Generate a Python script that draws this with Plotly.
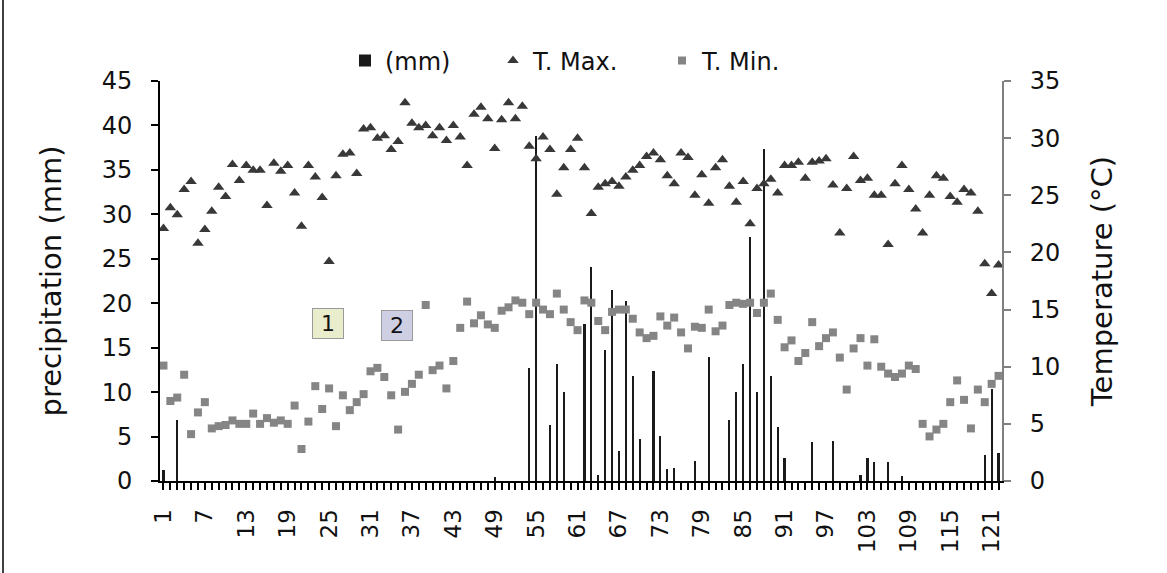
import plotly.graph_objects as go

days = list(range(1, 123))

precip_mm = [
    1.2, 0, 6.9, 0, 0, 0, 0, 0, 0, 0,
    0, 0, 0, 0, 0, 0, 0, 0, 0, 0,
    0, 0, 0, 0, 0, 0, 0, 0, 0, 0,
    0, 0, 0, 0, 0, 0, 0, 0, 0, 0,
    0, 0, 0, 0, 0, 0, 0, 0, 0.5, 0,
    0, 0, 0, 12.7, 38.8, 0, 6.3, 13.2, 10.0, 0,
    0, 17.7, 24.1, 0.7, 14.7, 21.5, 3.4, 20.3, 11.8, 4.7,
    0, 12.4, 5.1, 1.3, 1.5, 0, 0, 2.3, 0, 13.9,
    0, 0, 6.9, 10.0, 13.2, 27.5, 10.0, 37.4, 11.8, 6.1,
    2.6, 0, 0, 0, 4.4, 0, 0, 4.5, 0, 0,
    0, 0.7, 2.6, 2.1, 0, 2.1, 0, 0.6, 0, 0,
    0, 0, 0, 0, 0, 0, 0, 0, 0, 2.9,
    10.4, 3.1,
]

t_max = [
    22.1, 23.9, 23.3, 25.5, 26.2, 20.8, 22.0, 23.6, 25.7, 24.9,
    27.7, 26.3, 27.6, 27.2, 27.2, 24.1, 27.8, 27.1, 27.6, 25.2,
    22.3, 27.6, 26.6, 24.8, 19.2, 26.7, 28.6, 28.7, 26.9, 30.8,
    30.9, 30.0, 30.2, 29.0, 29.7, 33.1, 31.3, 30.9, 31.1, 30.2,
    30.9, 29.8, 31.1, 30.1, 27.6, 32.1, 32.7, 31.7, 29.1, 31.6,
    33.1, 31.7, 32.8, 29.3, 28.2, 30.1, 29.0, 25.1, 27.4, 29.0,
    30.0, 27.4, 23.4, 25.7, 26.0, 26.2, 25.8, 26.6, 27.2, 27.6,
    28.4, 28.7, 28.1, 26.7, 26.0, 28.7, 28.3, 25.0, 26.8, 24.3,
    27.4, 28.1, 25.8, 24.4, 26.2, 22.5, 25.6, 26.0, 26.4, 25.2,
    27.6, 27.6, 27.9, 26.5, 27.9, 28.0, 28.2, 25.9, 21.7, 25.6,
    28.4, 26.3, 26.5, 25.0, 25.0, 20.7, 26.0, 27.6, 25.5, 23.8,
    21.7, 25.0, 26.7, 26.5, 24.9, 24.4, 25.5, 25.2, 23.6, 19.0,
    16.4, 18.9,
]

t_min = [
    10.1, 7.0, 7.3, 9.3, 4.1, 6.0, 6.9, 4.6, 4.8, 4.9,
    5.3, 5.0, 5.0, 5.9, 5.0, 5.5, 5.1, 5.3, 5.0, 6.6,
    2.8, 5.2, 8.3, 6.3, 8.1, 4.8, 7.5, 6.2, 6.9, 7.6,
    9.6, 9.9, 9.1, 7.5, 4.5, 7.8, 8.5, 9.3, 15.4, 9.7,
    10.1, 8.1, 10.5, 13.4, 15.7, 13.8, 14.5, 13.7, 13.4, 14.9,
    15.2, 15.8, 15.6, 14.6, 15.6, 15.0, 14.6, 16.4, 15.0, 13.9,
    13.2, 15.8, 15.6, 14.0, 13.2, 14.8, 15.0, 15.0, 14.2, 13.0,
    12.5, 12.7, 14.4, 13.6, 14.3, 13.0, 11.6, 13.5, 13.4, 15.0,
    13.1, 13.6, 15.4, 15.6, 15.5, 15.6, 14.7, 15.6, 16.4, 14.1,
    11.7, 12.3, 10.5, 11.2, 13.9, 11.8, 12.5, 13.0, 10.8, 8.0,
    11.6, 12.5, 10.1, 12.4, 10.0, 9.4, 9.1, 9.4, 10.1, 9.8,
    5.0, 3.9, 4.5, 5.0, 6.9, 8.8, 7.1, 4.6, 8.0, 6.9,
    8.5, 9.2,
]

tick_labels = [str(d) if (d - 1) % 6 == 0 else "" for d in days]

period_labels = ["1", "2"]
period_label_x = [24.9, 34.9]
period_label_y = [17.7, 17.5]
period_label_bg = ["#e9edcc", "#cfcfe4"]

W, H = 1167, 573
ML, MR, MT, MB = 160, 165, 81, 92
PW, PH = W - ML - MR, H - MT - MB

FONT = "DejaVu Sans, Arial, sans-serif"

def px_to_paper_x(px):
    return (px - ML) / PW

def px_to_paper_y(py):
    return (H - MB - py) / PH

fig = go.Figure()
fig.add_trace(go.Bar(
    x=days, y=precip_mm, name="(mm)", yaxis="y",
    marker=dict(color="#1a1a1a", line=dict(width=0)), width=0.32,
    legend="legend",
))
fig.add_trace(go.Scatter(
    x=days, y=t_max, mode="markers", name="T. Max.", yaxis="y2",
    marker=dict(symbol="triangle-up", size=10, color="#383838"),
    legend="legend2",
))
fig.add_trace(go.Scatter(
    x=days, y=t_min, mode="markers", name="T. Min.", yaxis="y2",
    marker=dict(symbol="square", size=8, color="#858585"),
    legend="legend3",
))

legend_common = dict(
    orientation="h", yanchor="middle", xanchor="left",
    font=dict(family=FONT, size=24, color="#111"),
    bgcolor="rgba(0,0,0,0)", itemwidth=30,
)
legend_marker_px = [367, 515, 684]

annotations = []
for lab, lx, ly, bg in zip(period_labels, period_label_x, period_label_y, period_label_bg):
    annotations.append(dict(
        x=lx, y=ly, xref="x", yref="y", text=lab, showarrow=False,
        font=dict(family=FONT, size=22, color="#111"),
        bgcolor=bg, bordercolor="#9a9a9a", borderwidth=1, borderpad=2,
        width=26,
    ))

fig.update_layout(
    width=W, height=H,
    margin=dict(l=ML, r=MR, t=MT, b=MB),
    paper_bgcolor="white", plot_bgcolor="white",
    font=dict(family=FONT, color="#111"),
    bargap=0,
    legend=dict(legend_common, x=px_to_paper_x(legend_marker_px[0] - 22), y=px_to_paper_y(61)),
    legend2=dict(legend_common, x=px_to_paper_x(legend_marker_px[1] - 22), y=px_to_paper_y(61)),
    legend3=dict(legend_common, x=px_to_paper_x(legend_marker_px[2] - 22), y=px_to_paper_y(61)),
    xaxis=dict(
        range=[0.5, 122.5], tickmode="array", tickvals=days, ticktext=tick_labels,
        tickangle=-90, ticks="outside", ticklen=7, tickwidth=1.5, tickcolor="#000",
        showline=True, linecolor="#000", linewidth=2, showgrid=False, zeroline=False,
        tickfont=dict(family=FONT, size=23, color="#111"), ticklabelstandoff=10,
    ),
    yaxis=dict(
        range=[0, 45], dtick=5, ticks="outside", ticklen=7, tickwidth=1.5, tickcolor="#000",
        showline=True, linecolor="#000", linewidth=2, showgrid=False, zeroline=False,
        tickfont=dict(family=FONT, size=24, color="#111"), ticklabelstandoff=14,
        title=dict(text="precipitation (mm)", font=dict(family=FONT, size=29, color="#111"), standoff=32),
    ),
    yaxis2=dict(
        range=[0, 35], dtick=5, overlaying="y", side="right",
        ticks="outside", ticklen=7, tickwidth=1.5, tickcolor="#808080",
        showline=True, linecolor="#808080", linewidth=2, showgrid=False, zeroline=False,
        tickfont=dict(family=FONT, size=24, color="#111"), ticklabelstandoff=14,
        title=dict(text="Temperature (°C)", font=dict(family=FONT, size=29, color="#111"), standoff=32),
    ),
    annotations=annotations,
    shapes=[dict(
        type="line", xref="paper", yref="paper",
        x0=px_to_paper_x(3), x1=px_to_paper_x(3),
        y0=px_to_paper_y(H), y1=px_to_paper_y(0),
        line=dict(color="#000", width=1.5),
    )],
    showlegend=True,
)

fig.write_html(
    "out.html",
    config={"displayModeBar": False},
    post_script="document.body.style.margin='0';document.body.style.overflow='hidden';",
)
